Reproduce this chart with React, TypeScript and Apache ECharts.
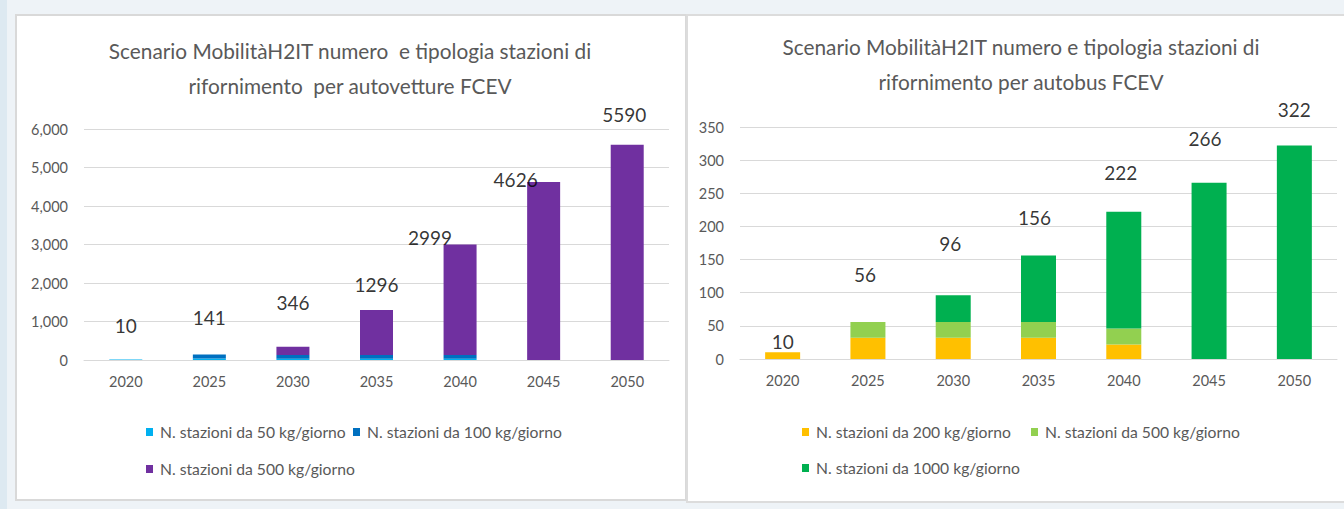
import React, { useEffect, useRef } from "react";
import * as echarts from "echarts";

const FONT = "Lato";

const years = ["2020", "2025", "2030", "2035", "2040", "2045", "2050"];

const carTitle = "Scenario MobilitàH2IT numero  e tipologia stazioni di\nrifornimento  per autovetture FCEV";
const carNames = [
  "N. stazioni da 50 kg/giorno",
  "N. stazioni da 100 kg/giorno",
  "N. stazioni da 500 kg/giorno",
];
const carColors = ["#00B0F0", "#0070C0", "#7030A0"];
const car50 = [10, 41, 30, 30, 30, 0, 0];
const car100 = [0, 100, 100, 100, 100, 0, 0];
const car500 = [0, 0, 216, 1166, 2869, 4626, 5590];
const carTotals = [10, 141, 346, 1296, 2999, 4626, 5590];
const carLabelY = [909, 1091, 1506, 1974, 3170, 4680, 6364];
const carLabelDx = [0, 0, 0, 0, -30, -28, -3];
const carAxisMax = 6000;
const carAxisStep = 1000;

const busTitle = "Scenario MobilitàH2IT numero e tipologia stazioni di\nrifornimento per autobus FCEV";
const busNames = [
  "N. stazioni da 200 kg/giorno",
  "N. stazioni da 500 kg/giorno",
  "N. stazioni da 1000 kg/giorno",
];
const busColors = ["#FFC000", "#92D050", "#00B050"];
const bus200 = [10, 32, 32, 32, 22, 0, 0];
const bus500 = [0, 24, 24, 24, 24, 0, 0];
const bus1000 = [0, 0, 40, 100, 176, 266, 322];
const busTotals = [10, 56, 96, 156, 222, 266, 322];
const busLabelY = [27, 127, 175, 214, 282, 333, 376];
const busLabelDx = [0, -3, -3, -4, -3, -4, 0];
const busAxisMax = 350;
const busAxisStep = 50;

const GRAY = "#595959";
const GRID = "#d9d9d9";

function xAxisFor(gridIndex: number) {
  return {
    gridIndex,
    type: "category",
    data: years,
    axisTick: { show: false },
    axisLine: { lineStyle: { color: GRID, width: 1 } },
    axisLabel: { color: GRAY, fontSize: 14.5, margin: 14, fontFamily: FONT },
  };
}

function yAxisFor(gridIndex: number, max: number, step: number) {
  return {
    gridIndex,
    type: "value",
    min: 0,
    max,
    interval: step,
    axisLine: { show: false },
    axisTick: { show: false },
    splitLine: { lineStyle: { color: GRID, width: 1 } },
    axisLabel: {
      color: GRAY,
      fontSize: 14.5,
      margin: 16,
      fontFamily: FONT,
      formatter: (v: number) => v.toLocaleString("en-US"),
    },
  };
}

function barSeries(name: string, data: number[], color: string, idx: number, stack: string, width: number) {
  return {
    type: "bar",
    name,
    stack,
    data,
    xAxisIndex: idx,
    yAxisIndex: idx,
    barWidth: width,
    itemStyle: { color },
  };
}

function labelSeries(posY: number[], totals: number[], dx: number[], idx: number) {
  return {
    type: "scatter",
    name: "totale" + idx,
    xAxisIndex: idx,
    yAxisIndex: idx,
    clip: false,
    symbolSize: 1,
    itemStyle: { color: "rgba(0,0,0,0)" },
    data: posY.map((y, i) => ({ value: [i, y], label: { offset: [dx[i], 0] } })),
    label: {
      show: true,
      position: "inside",
      formatter: (p: any) => String(totals[p.dataIndex]),
      color: "#000",
      fontSize: 19,
      fontFamily: FONT,
    },
    z: 10,
  };
}

function legendItem(name: string, color: string, left: number, top: number) {
  return {
    left,
    top,
    padding: 0,
    itemWidth: 7,
    itemHeight: 8,
    itemGap: 0,
    icon: "rect",
    selectedMode: false,
    data: [{ name, itemStyle: { color } }],
    textStyle: { color: GRAY, fontSize: 15.7, fontFamily: FONT, padding: [0, 0, 0, 2] },
  };
}

function titleText(text: string, x: number, y: number) {
  return {
    type: "text",
    x,
    y,
    style: {
      text,
      align: "center",
      verticalAlign: "middle",
      fill: GRAY,
      fontSize: 20.8,
      lineHeight: 35,
      fontFamily: FONT,
    },
  };
}

export default function App() {
  const ref = useRef<HTMLDivElement>(null);

  useEffect(() => {
    if (!ref.current) return;
    const chart = echarts.init(ref.current, null, { renderer: "svg" });
    chart.setOption({
      animation: false,
      backgroundColor: "transparent",
      textStyle: { fontFamily: FONT },
      graphic: [titleText(carTitle, 350, 68), titleText(busTitle, 1021, 64)],
      grid: [
        { left: 84, top: 129, width: 585, height: 231 },
        { left: 740, top: 127, width: 597, height: 232 },
      ],
      xAxis: [xAxisFor(0), xAxisFor(1)],
      yAxis: [yAxisFor(0, carAxisMax, carAxisStep), yAxisFor(1, busAxisMax, busAxisStep)],
      legend: [
        legendItem(carNames[0], carColors[0], 146, 424),
        legendItem(carNames[1], carColors[1], 353, 424),
        legendItem(carNames[2], carColors[2], 146, 461),
        legendItem(busNames[0], busColors[0], 802, 424),
        legendItem(busNames[1], busColors[1], 1031, 424),
        legendItem(busNames[2], busColors[2], 802, 460),
      ],
      series: [
        barSeries(carNames[0], car50, carColors[0], 0, "car", 33),
        barSeries(carNames[1], car100, carColors[1], 0, "car", 33),
        barSeries(carNames[2], car500, carColors[2], 0, "car", 33),
        labelSeries(carLabelY, carTotals, carLabelDx, 0),
        barSeries(busNames[0], bus200, busColors[0], 1, "bus", 35),
        barSeries(busNames[1], bus500, busColors[1], 1, "bus", 35),
        barSeries(busNames[2], bus1000, busColors[2], 1, "bus", 35),
        labelSeries(busLabelY, busTotals, busLabelDx, 1),
      ],
    });
    return () => chart.dispose();
  }, []);

  return (
    <div
      style={{
        position: "fixed",
        left: 0,
        top: 0,
        width: 1344,
        height: 509,
        overflow: "hidden",
        background: "#eef3f7",
      }}
    >
      <div style={{ position: "absolute", left: 0, top: 0, width: 7, height: 509, background: "#dde9f1" }} />
      <div
        style={{
          position: "absolute",
          left: 15,
          top: 14,
          width: 672,
          height: 487,
          boxSizing: "border-box",
          border: "2px solid #d9d9d9",
          background: "#fff",
        }}
      />
      <div
        style={{
          position: "absolute",
          left: 686,
          top: 14,
          width: 672,
          height: 489,
          boxSizing: "border-box",
          border: "2px solid #dcdcdc",
          background: "#fff",
        }}
      />
      <div ref={ref} style={{ position: "absolute", left: 0, top: 0, width: 1344, height: 509 }} />
    </div>
  );
}
